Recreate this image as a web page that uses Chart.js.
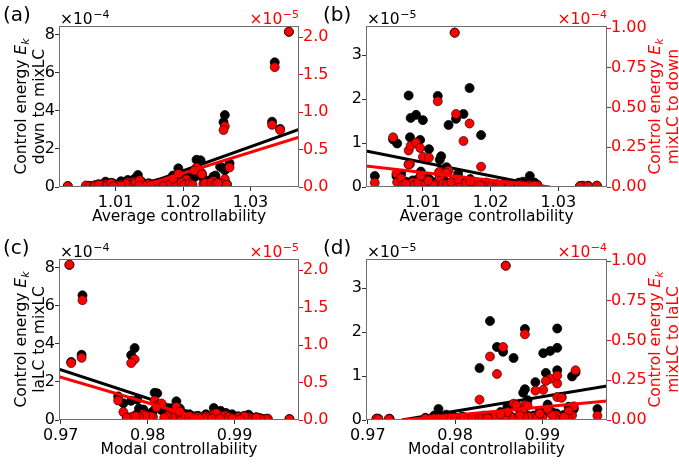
<!DOCTYPE html>
<html>
<head>
<meta charset="utf-8">
<script src="https://cdn.jsdelivr.net/npm/chart.js@4.4.1/dist/chart.umd.min.js"></script>
<style>
  html, body { margin: 0; padding: 0; background: #fff; }
  #wrap { position: relative; width: 679px; height: 466px; overflow: hidden; }
  #wrap canvas { position: absolute; left: 0; top: 0; }
</style>
</head>
<body>
<div id="wrap">
  <canvas id="panelA" width="679" height="466"></canvas>
  <canvas id="panelB" width="679" height="466"></canvas>
  <canvas id="panelC" width="679" height="466"></canvas>
  <canvas id="panelD" width="679" height="466"></canvas>
</div>
<script>
// One entry per subject; the same subjects appear in all four panels.
const avgCtrl = [
  1.0357, 1.0336, 1.0332, 1.0344, 1.0262, 1.0260, 1.0255, 1.0269, 1.0262, 1.0220, 1.0226,
  1.0193, 1.0258, 1.0133, 1.0085, 1.0118, 1.0217, 1.0230, 1.0245, 1.0205, 1.0238,
  1.0147, 1.0169, 1.0079, 1.0122, 1.0149, 1.0160, 1.0082, 1.0090, 1.0100, 1.0138, 1.0186,
  1.0056, 1.0062, 1.0081, 1.0096, 1.0109, 1.0127, 1.0125, 1.0079, 1.0029, 1.0061, 1.0068, 1.0124,
  1.0070, 1.0075, 1.0088, 1.0093, 1.0104, 1.0112, 1.0115, 1.0130, 1.0136, 1.0142, 1.0155,
  1.0164, 1.0175, 1.0180, 1.0190, 1.0198, 1.0202, 1.0210, 1.0214, 1.0233, 1.0242, 1.0248,
  1.0252, 1.0265, 1.0185, 1.0228, 1.0108, 1.0097, 1.0152, 1.0170, 1.0135,
];
const modalCtrl = [
  0.9710, 0.9725, 0.9724, 0.9712, 0.9785, 0.9781, 0.9788, 0.9766, 0.9772, 0.9808, 0.9811,
  0.9833, 0.9781, 0.9876, 0.9916, 0.9890, 0.9816, 0.9806, 0.9795, 0.9826, 0.9800,
  0.9858, 0.9840, 0.9917, 0.9880, 0.9855, 0.9848, 0.9909, 0.9917, 0.9901, 0.9867, 0.9828,
  0.9938, 0.9934, 0.9917, 0.9904, 0.9892, 0.9880, 0.9878, 0.9922, 0.9963, 0.9936, 0.9930, 0.9870,
  0.9929, 0.9925, 0.9914, 0.9911, 0.9900, 0.9896, 0.9893, 0.9884, 0.9879, 0.9874, 0.9864,
  0.9858, 0.9848, 0.9845, 0.9838, 0.9830, 0.9828, 0.9822, 0.9819, 0.9803, 0.9797, 0.9790,
  0.9786, 0.9776, 0.9837, 0.9810, 0.9897, 0.9906, 0.9860, 0.9852, 0.9883,
];
// energies into mixLC (panels a, c): black in units of 1e-4, red in units of 1e-5
const energyToMixBlack = [
  8.15, 6.55, 3.43, 3.05, 3.78, 3.41, 1.07, 1.24, 0.88, 1.43, 1.40,
  0.98, 1.01, 0.63, 0.28, 0.37, 0.52, 0.45, 0.55, 0.62, 0.30,
  0.10, 0.12, 0.05, 0.15, 0.20, 0.18, 0.06, 0.08, 0.10, 0.30, 0.45,
  0.04, 0.05, 0.12, 0.20, 0.15, 0.40, 0.25, 0.10, 0.05, 0.06, 0.04, 0.20,
  0.10, 0.15, 0.18, 0.22, 0.12, 0.08, 0.20, 0.48, 0.35, 0.10, 0.15,
  0.22, 0.30, 0.12, 0.25, 0.40, 0.15, 0.30, 0.45, 0.20, 0.38, 0.60,
  0.25, 0.15, 0.60, 0.70, 0.30, 0.10, 0.08, 0.05, 0.12,
];
const energyToMixRed = [
  2.075, 1.60, 0.83, 0.76, 0.81, 0.76, 0.05, 0.26, 0.107, 0.26, 0.20,
  0.174, 0.04, 0.08, 0.04, 0.06, 0.22, 0.04, 0.08, 0.10, 0.05,
  0.02, 0.03, 0.01, 0.03, 0.04, 0.03, 0.01, 0.02, 0.02, 0.05, 0.08,
  0.02, 0.01, 0.03, 0.04, 0.03, 0.07, 0.04, 0.02, 0.01, 0.01, 0.01, 0.03,
  0.02, 0.03, 0.02, 0.05, 0.02, 0.03, 0.04, 0.06, 0.09, 0.02, 0.03,
  0.04, 0.05, 0.03, 0.04, 0.06, 0.03, 0.05, 0.03, 0.05, 0.06, 0.04,
  0.05, 0.03, 0.11, 0.17, 0.02, 0.01, 0.02, 0.01, 0.02,
];
// energies out of mixLC (panels b, d): black in units of 1e-5, red in units of 1e-4
const energyFromMixBlack = [
  0.03, 0.03, 0.02, 0.03, 0.05, 0.04, 0.06, 0.05, 0.03, 0.08, 0.06,
  0.10, 0.25, 0.12, 0.15, 0.10, 0.05, 0.04, 0.07, 0.05, 0.04,
  3.51, 2.25, 2.08, 2.07, 1.55, 1.66, 1.57, 1.64, 1.52, 1.41, 1.18,
  1.08, 0.99, 1.13, 1.07, 0.86, 0.70, 0.62, 0.52, 0.25, 0.25, 0.30, 0.30,
  0.08, 0.12, 0.06, 0.18, 0.10, 0.14, 0.05, 0.09, 0.06, 0.11, 0.08,
  0.12, 0.07, 0.10, 0.05, 0.08, 0.04, 0.06, 0.03, 0.05, 0.10, 0.12,
  0.04, 0.10, 0.04, 0.05, 0.20, 0.35, 0.30, 0.18, 0.45,
];
const energyFromMixRed = [
  0.008, 0.006, 0.004, 0.005, 0.010, 0.008, 0.012, 0.010, 0.007, 0.015, 0.012,
  0.020, 0.010, 0.020, 0.030, 0.020, 0.010, 0.010, 0.015, 0.010, 0.008,
  0.972, 0.400, 0.230, 0.540, 0.460, 0.290, 0.260, 0.280, 0.190, 0.103, 0.128,
  0.313, 0.030, 0.145, 0.246, 0.185, 0.095, 0.060, 0.140, 0.027, 0.086, 0.055, 0.095,
  0.010, 0.020, 0.015, 0.030, 0.020, 0.025, 0.012, 0.020, 0.018, 0.030, 0.020,
  0.025, 0.015, 0.020, 0.012, 0.015, 0.010, 0.012, 0.008, 0.010, 0.012, 0.010,
  0.008, 0.010, 0.010, 0.012, 0.040, 0.070, 0.050, 0.035, 0.090,
];

// regression lines, [x, y] end points
const fitAvgToMixBlack = [[1.0133, 0], [1.0372, 3.03]];
const fitAvgToMixRed = [[1.0135, 0], [1.0372, 0.665]];
const fitAvgFromMixBlack = [[1.0016, 0.82], [1.0283, 0]];
const fitAvgFromMixRed = [[1.0016, 0.132], [1.0288, 0]];
const fitModalToMixBlack = [[0.9698, 2.67], [0.9876, 0]];
const fitModalToMixRed = [[0.9698, 0.58], [0.9867, 0]];
const fitModalFromMixBlack = [[0.9739, 0], [0.9974, 0.775]];
const fitModalFromMixRed = [[0.9740, 0], [0.9974, 0.119]];

// axis limits and ticks
const avgRange = [1.0016, 1.0372];
const modalRange = [0.9698, 0.9974];
const avgTicks = [1.01, 1.02, 1.03];
const modalTicks = [0.97, 0.98, 0.99];
const toMixBlackRange = [0, 8.46];
const toMixRedRange = [0, 2.15];
const fromMixBlackRange = [0, 3.66];
const fromMixRedRange = [0, 1.0145];
const toMixBlackTicks = [0, 2, 4, 6, 8];
const toMixRedTicks = [0, 0.5, 1.0, 1.5, 2.0];
const fromMixBlackTicks = [0, 1, 2, 3];
const fromMixRedTicks = [0, 0.25, 0.5, 0.75, 1.0];

const FONT = '"DejaVu Sans", sans-serif';
const RED = "#ff0000";
const SPINE = "#6e6e6e";
const TICK_PX = 16;
const LABEL_PX = 15.5;

Chart.defaults.font.family = FONT;

const toPts = (xs, ys) => xs.map((x, i) => ({ x, y: ys[i] }));
const pairPts = (pairs) => pairs.map(([x, y]) => ({ x, y }));

function axisDef(position, range, ticks, digits, color, size) {
  return {
    type: "linear",
    position,
    min: range[0],
    max: range[1],
    afterBuildTicks: (s) => {
      s.ticks = ticks.map((v) => ({ value: v }));
    },
    afterFit: (s) => {
      if (s.isHorizontal()) s.height = size;
      else s.width = size;
    },
    ticks: {
      color,
      font: { family: FONT, size: TICK_PX },
      padding: position === "bottom" ? 2 : 0,
      autoSkip: false,
      maxRotation: 0,
      minRotation: 0,
      callback: (v) => Number(v).toFixed(digits),
    },
    grid: { display: true, drawOnChartArea: false, drawTicks: true, tickLength: 4, color: color === RED ? RED : "#333" },
    border: { display: false },
  };
}

function sci(ctx, x, y, exp, color, alignRight) {
  ctx.font = `${LABEL_PX}px ${FONT}`;
  const base = "\u00d710";
  const w1 = ctx.measureText(base).width;
  ctx.font = `11px ${FONT}`;
  const sup = "\u2212" + exp;
  const w2 = ctx.measureText(sup).width;
  const x0 = alignRight ? x - w1 - w2 - 0.5 : x;
  ctx.fillStyle = color;
  ctx.textAlign = "left";
  ctx.font = `${LABEL_PX}px ${FONT}`;
  ctx.fillText(base, x0, y);
  ctx.font = `11px ${FONT}`;
  ctx.fillText(sup, x0 + w1 + 0.5, y - 6);
}

function rotatedTitle(ctx, baselines, cy, second, color) {
  const first = [
    ["Control energy ", `${LABEL_PX}px ${FONT}`, 0],
    ["E", `italic ${LABEL_PX}px ${FONT}`, 0],
    ["k", `italic 11px ${FONT}`, 3],
  ];
  const lines = [first, [[second, `${LABEL_PX}px ${FONT}`, 0]]];
  ctx.fillStyle = color;
  ctx.textAlign = "left";
  lines.forEach((segs, li) => {
    let width = 0;
    segs.forEach(([t, f]) => {
      ctx.font = f;
      width += ctx.measureText(t).width;
    });
    ctx.save();
    ctx.translate(baselines[li], cy);
    ctx.rotate(-Math.PI / 2);
    let x = -width / 2;
    segs.forEach(([t, f, dy]) => {
      ctx.font = f;
      ctx.fillText(t, x, dy);
      x += ctx.measureText(t).width;
    });
    ctx.restore();
  });
}

function decor(p) {
  return {
    id: "decor" + p.label,
    afterDraw(chart) {
      const { ctx, chartArea: ca } = chart;
      ctx.save();
      ctx.strokeStyle = SPINE;
      ctx.lineWidth = 1;
      ctx.strokeRect(ca.left + 0.5, ca.top + 0.5, ca.right - ca.left - 1, ca.bottom - ca.top - 1);

      ctx.textBaseline = "alphabetic";
      ctx.fillStyle = "#000";
      ctx.font = `20px ${FONT}`;
      ctx.textAlign = "left";
      ctx.fillText(p.label, p.labelAt[0], p.labelAt[1]);

      sci(ctx, ca.left + 1, ca.top - 2, p.blackExp, "#000", false);
      sci(ctx, ca.right, ca.top - 2, p.redExp, RED, true);

      ctx.fillStyle = "#000";
      ctx.font = `${LABEL_PX}px ${FONT}`;
      ctx.textAlign = "center";
      ctx.fillText(p.xTitle, (ca.left + ca.right) / 2, ca.bottom + 34);

      const cy = (ca.top + ca.bottom) / 2;
      if (p.titleSide === "left") {
        rotatedTitle(ctx, [ca.left - 33.5, ca.left - 15.5], cy, p.yTitle, "#000");
      } else {
        rotatedTitle(ctx, [ca.right + 52.5, ca.right + 70.5], cy, p.yTitle, RED);
      }
      ctx.restore();
    },
  };
}

const panels = [
  {
    canvas: "panelA", label: "(a)", labelAt: [3, 21.4],
    pad: { left: 0, top: 26, right: 339, bottom: 233 }, widths: [59, 41],
    xs: avgCtrl, xRange: avgRange, xTicks: avgTicks, xTitle: "Average controllability",
    black: energyToMixBlack, blackRange: toMixBlackRange, blackTicks: toMixBlackTicks, blackDigits: 0, blackExp: "4",
    red: energyToMixRed, redRange: toMixRedRange, redTicks: toMixRedTicks, redDigits: 1, redExp: "5",
    blackFit: fitAvgToMixBlack, redFit: fitAvgToMixRed,
    titleSide: "left", yTitle: "down to mixLC",
  },
  {
    canvas: "panelB", label: "(b)", labelAt: [323, 21.4],
    pad: { left: 339, top: 26, right: 0, bottom: 233 }, widths: [27, 72],
    xs: avgCtrl, xRange: avgRange, xTicks: avgTicks, xTitle: "Average controllability",
    black: energyFromMixBlack, blackRange: fromMixBlackRange, blackTicks: fromMixBlackTicks, blackDigits: 0, blackExp: "5",
    red: energyFromMixRed, redRange: fromMixRedRange, redTicks: fromMixRedTicks, redDigits: 2, redExp: "4",
    blackFit: fitAvgFromMixBlack, redFit: fitAvgFromMixRed,
    titleSide: "right", yTitle: "mixLC to down",
  },
  {
    canvas: "panelC", label: "(c)", labelAt: [3, 254.4],
    pad: { left: 0, top: 259, right: 339, bottom: 0 }, widths: [59, 41],
    xs: modalCtrl, xRange: modalRange, xTicks: modalTicks, xTitle: "Modal controllability",
    black: energyToMixBlack, blackRange: toMixBlackRange, blackTicks: toMixBlackTicks, blackDigits: 0, blackExp: "4",
    red: energyToMixRed, redRange: toMixRedRange, redTicks: toMixRedTicks, redDigits: 1, redExp: "5",
    blackFit: fitModalToMixBlack, redFit: fitModalToMixRed,
    titleSide: "left", yTitle: "laLC to mixLC",
  },
  {
    canvas: "panelD", label: "(d)", labelAt: [323, 254.4],
    pad: { left: 339, top: 259, right: 0, bottom: 0 }, widths: [27, 72],
    xs: modalCtrl, xRange: modalRange, xTicks: modalTicks, xTitle: "Modal controllability",
    black: energyFromMixBlack, blackRange: fromMixBlackRange, blackTicks: fromMixBlackTicks, blackDigits: 0, blackExp: "5",
    red: energyFromMixRed, redRange: fromMixRedRange, redTicks: fromMixRedTicks, redDigits: 2, redExp: "4",
    blackFit: fitModalFromMixBlack, redFit: fitModalFromMixRed,
    titleSide: "right", yTitle: "mixLC to laLC",
  },
];

function buildPanel(p) {
  const canvas = document.getElementById(p.canvas);
  return new Chart(canvas, {
    type: "scatter",
    data: {
      datasets: [
        {
          data: toPts(p.xs, p.black), yAxisID: "yL", order: 4, clip: 0,
          backgroundColor: "#000", borderColor: "#000", borderWidth: 0.8, pointRadius: 4.5,
        },
        {
          data: pairPts(p.blackFit), yAxisID: "yL", order: 3, clip: 0, showLine: true,
          borderColor: "#000", borderWidth: 3, pointRadius: 0,
        },
        {
          data: toPts(p.xs, p.red), yAxisID: "yR", order: 2, clip: 0,
          backgroundColor: RED, borderColor: "rgba(40,0,0,0.85)", borderWidth: 0.8, pointRadius: 4.5,
        },
        {
          data: pairPts(p.redFit), yAxisID: "yR", order: 1, clip: 0, showLine: true,
          borderColor: RED, borderWidth: 3, pointRadius: 0,
        },
      ],
    },
    options: {
      responsive: false,
      animation: false,
      devicePixelRatio: 1,
      events: [],
      layout: { padding: p.pad },
      plugins: { legend: { display: false }, tooltip: { enabled: false } },
      scales: {
        x: axisDef("bottom", p.xRange, p.xTicks, 2, "#000", 46),
        yL: axisDef("left", p.blackRange, p.blackTicks, p.blackDigits, "#000", p.widths[0]),
        yR: axisDef("right", p.redRange, p.redTicks, p.redDigits, RED, p.widths[1]),
      },
    },
    plugins: [decor(p)],
  });
}

panels.forEach(buildPanel);
</script>
</body>
</html>
